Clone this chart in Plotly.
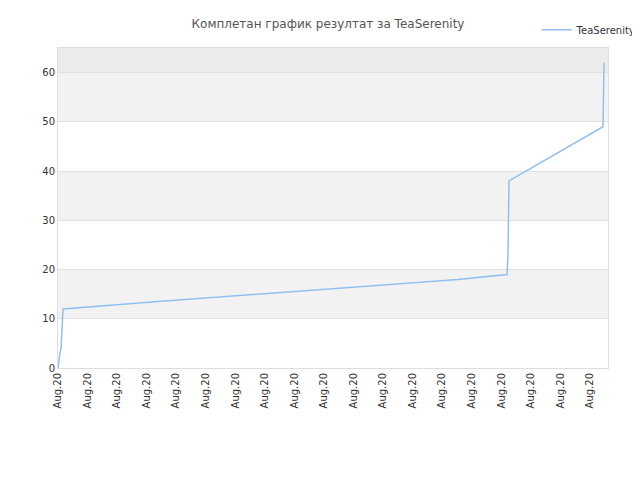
import plotly.graph_objects as go

x_vals = [0, 1, 2, 3, 4, 5, 100, 200, 300, 400, 449, 450, 451, 500, 545, 546]
scores = [0, 2, 3, 4, 8, 12, 13.5, 15, 16.5, 18, 19, 23, 38, 43.7, 49, 62]
tick_pos = [i * 29.55 for i in range(19)]
tick_text = ["Aug.20"] * 19

fig = go.Figure()
fig.add_trace(go.Scatter(x=x_vals, y=scores, mode="lines", name="TeaSerenity",
                         line=dict(color="#90c0f0", width=1.5)))

shapes = []
for y0, y1, c in [(10, 20, "#f2f2f2"), (30, 40, "#f2f2f2"), (50, 60, "#f2f2f2"), (60, 65, "#ececec")]:
    shapes.append(dict(type="rect", xref="paper", x0=0, x1=1, yref="y", y0=y0, y1=y1,
                       fillcolor=c, line_width=0, layer="below"))

fig.update_layout(
    width=640, height=480,
    title=dict(text="Комплетан график резултат за TeaSerenity", x=0.5, y=0.975,
               font=dict(size=12, color="#555")),
    font=dict(family="DejaVu Sans", size=10, color="#333"),
    paper_bgcolor="white", plot_bgcolor="white",
    margin=dict(l=50, r=40, t=40, b=120, autoexpand=False),
    shapes=shapes,
    showlegend=True,
    legend=dict(x=0.99, y=0.985, xref="container", yref="container",
                xanchor="right", yanchor="top", font=dict(size=10)),
    xaxis=dict(range=[0, 550], tickvals=tick_pos, ticktext=tick_text, tickangle=-90,
               automargin=False,
               showgrid=False, showline=True, linecolor="#ddd", mirror=True, zeroline=False),
    yaxis=dict(range=[0, 65], tickvals=[0, 10, 20, 30, 40, 50, 60], gridcolor="#e0e0e0",
               automargin=False,
               showline=True, linecolor="#ddd", mirror=True, zeroline=False),
)
fig.write_html("out.html")
